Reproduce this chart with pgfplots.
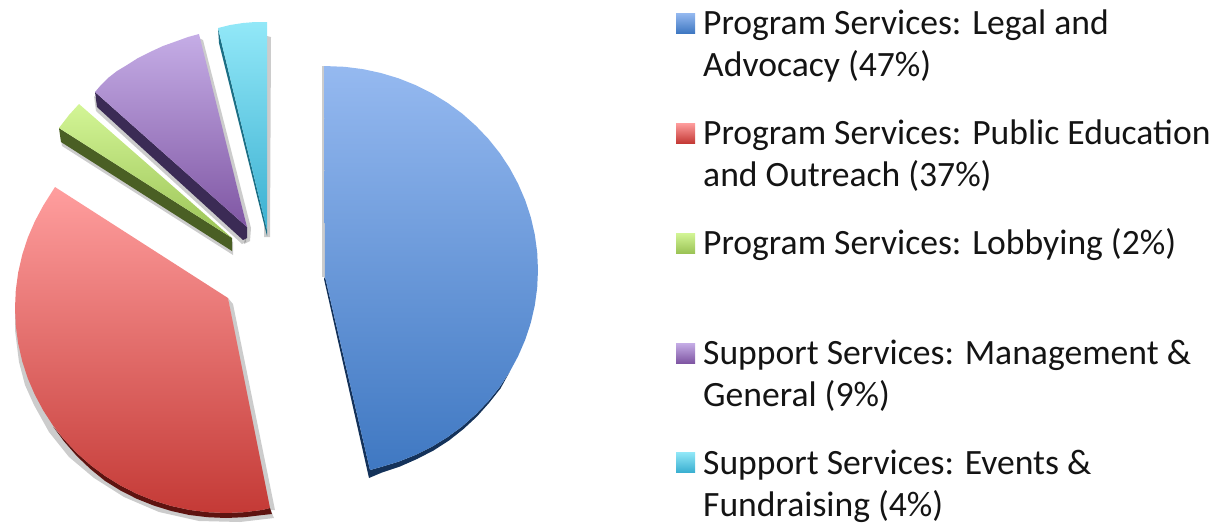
\documentclass[border=0pt]{standalone}
\usepackage{pgfplots}
\usepackage{pgfplotstable}
\usepackage{fontspec}
\setmainfont{Carlito}
\pgfplotsset{compat=1.18}
\pgfplotstableread{
x y
324 66
344.5 66.8
362.8 69.1
380.9 73
398.5 78.3
415.6 85.1
432 93.3
447.6 102.9
462.3 113.7
475.9 125.8
488.4 138.9
499.7 153
509.6 168
518.1 183.8
525.2 200.2
530.8 217.2
534.8 234.6
537.2 252.2
538 270
537.2 287.8
534.8 305.4
530.8 322.8
525.2 339.8
518.1 356.2
509.6 372
499.7 387
488.4 401.1
475.9 414.2
462.3 426.3
447.6 437.1
432 446.7
415.6 454.9
398.5 461.7
380.9 467
370 470
325 276.7
324 66
}\blue
\pgfplotstableread{
x y
325 276.7
370 470
380.9 467
398.5 461.7
415.6 454.9
432 446.7
447.6 437.1
462.3 426.3
475.9 414.2
488.4 401.1
499.7 387
509.6 372
500.5 388.5
489 403
477 416.5
463.5 429
449 440.5
433.5 450.5
417 459
400 466.5
382 472.5
369 478
324 279
}\blueside
\pgfplotstableread{
x y
322 66
325 66
325 277
322 277
}\blueshadow
\pgfplotstableread{
x y
55 187
228 298
270 508
262.6 509.9
244.4 512.2
226 513
207.6 512.2
189.4 509.9
171.4 506
153.8 500.6
136.8 493.8
120.5 485.5
105 475.9
90.4 465
76.8 453
64.4 439.8
53.1 425.6
43.3 410.5
34.8 394.6
27.7 378.1
22.2 361.1
18.2 343.6
15.8 325.9
15 308
15.8 290.1
18.2 272.4
22.2 254.9
27.7 237.9
34.8 221.4
43.3 205.5
55 187
}\red
\pgfplotstableread{
x y
228 298
233 304
275 510
268 510
}\redshadowa
\pgfplotstableread{
x y
15 308
15 330
19 362
25 385
34 405
49 432
69 457
94 478
124 497
159 512
199 521
240 522
274 518
270 508
226 505
153.8 495
90.4 460
53.1 420
27.7 375
20 325
}\redshadowb
\pgfplotstableread{
x y
270 508
272 514
262.6 515
244.4 517.2
226 518
207.6 517.2
189.4 515
171.4 511
153.8 505.6
136.8 498.8
120.5 490.5
105 480.9
90.4 469
76.8 456
64.4 441.8
53.1 426.6
64.4 439.8
76.8 453
90.4 465
105 475.9
120.5 485.5
136.8 493.8
153.8 500.6
171.4 506
189.4 509.9
207.6 512.2
226 513
244.4 512.2
262.6 509.9
}\redside
\pgfplotstableread{
x y
79 104
69 115
59 128
232 238
79 104
}\green
\pgfplotstableread{
x y
59 128
61 142
232 251
232 238
}\greenside
\pgfplotstableread{
x y
199 34
188 37
177 41
163 46
150 52
138 58
127 65
117 71
108 78
101 85
95 92
247 227
199 34
}\purple
\pgfplotstableread{
x y
95 92
97 107
243 240
247 238
247 227
}\purpleside
\pgfplotstableread{
x y
199 38
203 40
251 228
250 241
244 244
247 227
}\purpleshadow
\pgfplotstableread{
x y
218 28
230 25
243 23
255 22
267 22
267 230
218 28
}\cyan
\pgfplotstableread{
x y
218 28
219 43
267 236
267 230
}\cyanside
\pgfplotstableread{
x y
267 36
271 37
270 237
264 237
}\cyanshadow
\pgfplotstableread{
x y
676 13
695 13
695 33
676 33
}\sqa
\pgfplotstableread{
x y
676 123
695 123
695 143
676 143
}\sqb
\pgfplotstableread{
x y
676 233
695 233
695 253
676 253
}\sqc
\pgfplotstableread{
x y
676 343
695 343
695 363
676 363
}\sqd
\pgfplotstableread{
x y
676 452
695 452
695 472
676 472
}\sqe
\begin{document}
\begin{tikzpicture}
\useasboundingbox (0,0) rectangle (1219pt,523pt);
\begin{axis}[
  at={(0,0)},anchor=south west,
  width=1219pt,height=523pt,scale only axis,
  xmin=0,xmax=1219,ymin=0,ymax=523,y dir=reverse,
  hide axis,clip=false,
  every axis plot/.append style={no markers,line width=0pt},
  shadow/.style={draw=none,fill=black,fill opacity=0.2,forget plot},
]
% drop shadows
\addplot[shadow] table {\blueshadow};
\addplot[shadow] table {\redshadowa};
\addplot[shadow] table {\redshadowb};
\addplot[shadow,yshift=-4pt,xshift=1pt] table {\greenside};
\addplot[shadow] table {\purpleshadow};
\addplot[shadow,yshift=-4pt,xshift=-1pt] table {\purpleside};
\addplot[shadow] table {\cyanshadow};
% sides
\addplot[draw=none,fill={rgb,255:red,20;green,50;blue,90}] table {\blueside};
\addplot[draw=none,fill={rgb,255:red,94;green,19;blue,16}] table {\redside};
\addplot[draw=none,fill={rgb,255:red,74;green,95;blue,36}] table {\greenside};
\addplot[draw=none,fill={rgb,255:red,59;green,43;blue,85}] table {\purpleside};
\addplot[draw=none,fill={rgb,255:red,28;green,111;blue,133}] table {\cyanside};
% faces
\addplot[draw=none,top color={rgb,255:red,149;green,185;blue,240},bottom color={rgb,255:red,63;green,120;blue,194}] table {\blue};
\addplot[draw=none,top color={rgb,255:red,255;green,158;blue,158},bottom color={rgb,255:red,196;green,58;blue,54}] table {\red};
\addplot[draw=none,top color={rgb,255:red,211;green,245;blue,150},bottom color={rgb,255:red,155;green,195;blue,86}] table {\green};
\addplot[draw=none,top color={rgb,255:red,197;green,173;blue,230},bottom color={rgb,255:red,127;green,86;blue,163}] table {\purple};
\addplot[draw=none,top color={rgb,255:red,146;green,232;blue,248},bottom color={rgb,255:red,59;green,176;blue,209}] table {\cyan};
% legend keys
\addplot[draw=none,top color={rgb,255:red,149;green,185;blue,240},bottom color={rgb,255:red,63;green,120;blue,194}] table {\sqa};
\addplot[draw=none,top color={rgb,255:red,255;green,158;blue,158},bottom color={rgb,255:red,196;green,58;blue,54}] table {\sqb};
\addplot[draw=none,top color={rgb,255:red,211;green,245;blue,150},bottom color={rgb,255:red,155;green,195;blue,86}] table {\sqc};
\addplot[draw=none,top color={rgb,255:red,197;green,173;blue,230},bottom color={rgb,255:red,127;green,86;blue,163}] table {\sqd};
\addplot[draw=none,top color={rgb,255:red,146;green,232;blue,248},bottom color={rgb,255:red,59;green,176;blue,209}] table {\sqe};
% legend text
\begin{scope}[every node/.style={anchor=base west,inner sep=0pt,font=\fontsize{35.6}{42}\selectfont,text={black!92}}]
\node at (axis cs:703,34) {Program Services: Legal and};
\node at (axis cs:703,76) {Advocacy (47\%)};
\node at (axis cs:703,144) {Program Services: Public Education};
\node at (axis cs:703,186) {and Outreach (37\%)};
\node at (axis cs:703,254) {Program Services: Lobbying (2\%)};
\node at (axis cs:703,364) {Support Services: Management \&};
\node at (axis cs:703,406) {General (9\%)};
\node at (axis cs:703,474) {Support Services: Events \&};
\node at (axis cs:703,516) {Fundraising (4\%)};
\end{scope}
\end{axis}
\end{tikzpicture}
\end{document}
